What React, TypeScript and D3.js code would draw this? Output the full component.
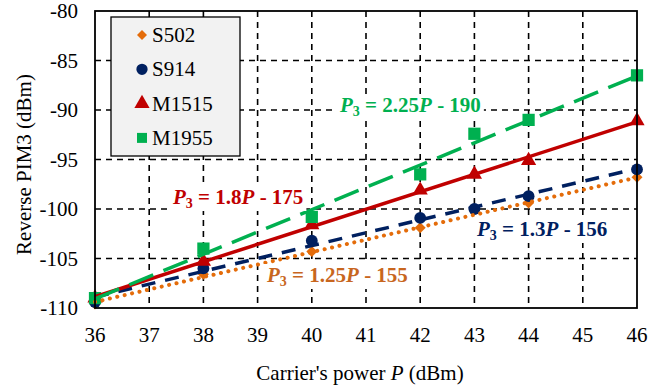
import React, { useRef, useEffect } from "react";
import * as d3 from "d3";

const power = [36, 38, 40, 42, 43, 44, 46];
const s502 = [-109.6, -106.6, -104.3, -101.9, null, -99.4, -96.8];
const s914 = [-109.4, -106.0, -103.2, -100.9, -100.0, -98.7, -96.0];
const m1515 = [-109.0, -105.3, -101.6, -98.1, -96.5, -95.1, -91.1];
const m1955 = [-109.0, -104.0, -100.8, -96.5, -92.4, -91.0, -86.5];

const seriesNames = ["S502", "S914", "M1515", "M1955"];
const xTicks = [36, 37, 38, 39, 40, 41, 42, 43, 44, 45, 46];
const yTicks = [-110, -105, -100, -95, -90, -85, -80];

const serif = "Liberation Serif, Tinos, Times New Roman, DejaVu Serif, serif";

type Pt = { x: number; y: number };

const fit = (pts: Pt[]) => {
  const mx = d3.mean(pts, d => d.x)!;
  const my = d3.mean(pts, d => d.y)!;
  const sxy = d3.sum(pts, d => (d.x - mx) * (d.y - my));
  const sxx = d3.sum(pts, d => (d.x - mx) ** 2);
  const b = sxy / sxx;
  return (x: number) => my + b * (x - mx);
};

const App = () => {
  const ref = useRef<HTMLDivElement>(null);

  useEffect(() => {
    document.body.style.margin = "0";
    const width = 671;
    const height = 391;
    const m = { top: 11, right: 34, bottom: 83, left: 95 };

    const x = d3.scaleLinear().domain([36, 46]).range([m.left, width - m.right]);
    const y = d3.scaleLinear().domain([-110, -80]).range([height - m.bottom, m.top]);

    const svg = d3.create("svg")
      .attr("width", width)
      .attr("height", height)
      .attr("font-family", serif)
      .style("display", "block");

    // attach first so getBBox works for label backgrounds
    const container = ref.current!;
    container.innerHTML = "";
    container.appendChild(svg.node()!);

    // grid
    const grid = svg.append("g")
      .attr("stroke", "#000")
      .attr("stroke-width", 1.6)
      .attr("stroke-dasharray", "6,5");
    grid.selectAll("line.v")
      .data(xTicks.slice(1, -1))
      .join("line")
      .attr("x1", d => x(d)).attr("x2", d => x(d))
      .attr("y1", y(-80)).attr("y2", y(-110));
    grid.selectAll("line.h")
      .data(yTicks.slice(1, -1))
      .join("line")
      .attr("x1", x(36)).attr("x2", x(46))
      .attr("y1", d => y(d)).attr("y2", d => y(d));

    // tick labels
    svg.append("g")
      .selectAll("text")
      .data(xTicks)
      .join("text")
      .attr("x", d => x(d))
      .attr("y", 342)
      .attr("text-anchor", "middle")
      .attr("font-size", 21)
      .text(d => d);
    svg.append("g")
      .selectAll("text")
      .data(yTicks)
      .join("text")
      .attr("x", 78)
      .attr("y", d => y(d) + 7)
      .attr("text-anchor", "end")
      .attr("font-size", 21)
      .text(d => d);

    // axis titles
    const xt = svg.append("text")
      .attr("x", 360)
      .attr("y", 380)
      .attr("text-anchor", "middle")
      .attr("font-size", 21);
    xt.append("tspan").text("Carrier's power ");
    xt.append("tspan").attr("font-style", "italic").text("P");
    xt.append("tspan").text(" (dBm)");
    svg.append("text")
      .attr("transform", `translate(31,${(y(-80) + y(-110)) / 2 + 5}) rotate(-90)`)
      .attr("text-anchor", "middle")
      .attr("font-size", 21)
      .text("Reverse PIM3 (dBm)");

    const all = [s502, s914, m1515, m1955];
    const colors = ["#E46C0A", "#002060", "#C00000", "#00B050"];
    const dashes = ["0.1,7.5", "14,10", null, "26,11"];
    const symbols = [d3.symbolSquare, d3.symbolCircle, d3.symbolTriangle, d3.symbolSquare];
    const sizes = [60, 110, 100, 150];

    // markers
    all.forEach((vals, i) => {
      const pts = power.map((p, j) => ({ x: p, y: vals[j] })).filter(d => d.y != null) as Pt[];
      svg.append("g")
        .selectAll("path")
        .data(pts)
        .join("path")
        .attr("transform", d => `translate(${x(d.x)},${y(d.y)})${i === 0 ? " rotate(45)" : ""}`)
        .attr("fill", colors[i])
        .attr("d", d3.symbol(symbols[i], sizes[i])());
    });

    // trend lines (least squares on each series)
    all.forEach((vals, i) => {
      const pts = power.map((p, j) => ({ x: p, y: vals[j] })).filter(d => d.y != null) as Pt[];
      const f = fit(pts);
      const line = svg.append("line")
        .attr("x1", x(36)).attr("y1", y(f(36)))
        .attr("x2", x(46)).attr("y2", y(f(46)))
        .attr("stroke", colors[i])
        .attr("stroke-width", i === 0 ? 4 : 3.5)
        .attr("stroke-linecap", i === 0 ? "round" : "butt");
      if (dashes[i]) line.attr("stroke-dasharray", dashes[i]);
    });

    // equation labels with white backgrounds
    const labels = [
      { x: 340, y: 112, color: "#00B050", k: "2.25", c: "190" },
      { x: 173, y: 204, color: "#C00000", k: "1.8", c: "175" },
      { x: 477, y: 236, color: "#002060", k: "1.3", c: "156" },
      { x: 267, y: 282, color: "#C8661E", k: "1.25", c: "155" },
    ];
    labels.forEach(l => {
      const g = svg.append("g");
      const rect = g.append("rect").attr("fill", "#fff");
      const t = g.append("text")
        .attr("x", l.x)
        .attr("y", l.y)
        .attr("fill", l.color)
        .attr("font-size", 21)
        .attr("font-weight", "bold");
      t.append("tspan").attr("font-style", "italic").text("P");
      t.append("tspan").attr("dy", 4).attr("font-size", 14).text("3");
      t.append("tspan").attr("dy", -4).text(` = ${l.k}`);
      t.append("tspan").attr("font-style", "italic").text("P");
      t.append("tspan").text(` - ${l.c}`);
      const bb = (t.node() as SVGTextElement).getBBox();
      rect.attr("x", bb.x - 3).attr("y", bb.y + 1).attr("width", bb.width + 6).attr("height", bb.height - 1);
    });

    // plot border
    svg.append("rect")
      .attr("x", x(36)).attr("y", y(-80))
      .attr("width", x(46) - x(36)).attr("height", y(-110) - y(-80))
      .attr("fill", "none")
      .attr("stroke", "#000")
      .attr("stroke-width", 1.8);

    // legend
    const lg = svg.append("g").attr("transform", "translate(111,17)");
    lg.append("rect")
      .attr("width", 129).attr("height", 139)
      .attr("fill", "#F2F2F2")
      .attr("stroke", "#000")
      .attr("stroke-width", 1.3);
    seriesNames.forEach((name, i) => {
      const yy = 18 + i * 34.3;
      lg.append("path")
        .attr("transform", `translate(31,${yy})${i === 0 ? " rotate(45)" : ""}`)
        .attr("fill", colors[i])
        .attr("d", d3.symbol(symbols[i], i === 0 ? 50 : 100)());
      lg.append("text")
        .attr("x", 41)
        .attr("y", yy + 7)
        .attr("font-size", 21)
        .text(name);
    });
  }, []);

  return <div ref={ref}></div>;
};

export default App;
